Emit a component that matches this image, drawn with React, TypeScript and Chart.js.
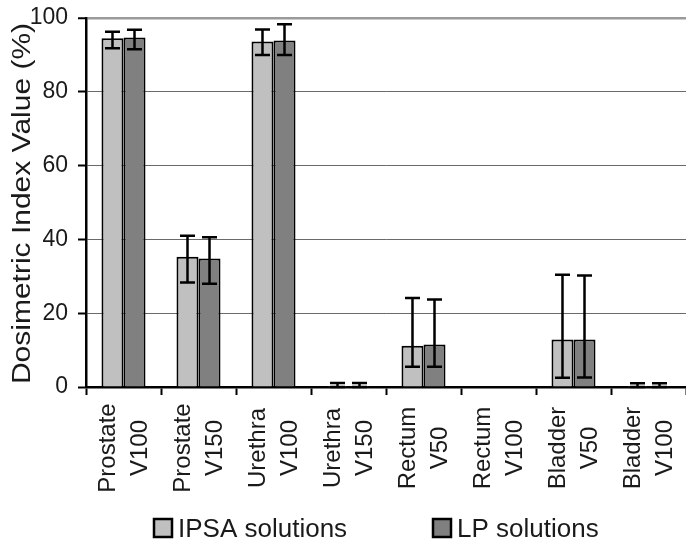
import { useEffect, useRef } from 'react';
import { Chart, registerables } from 'chart.js';

Chart.register(...registerables);

const categories: string[][] = [
  ['Prostate', 'V100'],
  ['Prostate', 'V150'],
  ['Urethra', 'V100'],
  ['Urethra', 'V150'],
  ['Rectum', 'V50'],
  ['Rectum', 'V100'],
  ['Bladder', 'V50'],
  ['Bladder', 'V100'],
];

const ipsaValues = [94.5, 35.3, 93.6, 0.3, 11.2, 0, 12.9, 0.3];
const ipsaLow = [91.8, 28.3, 90.0, 0, 5.5, 0, 2.5, 0];
const ipsaHigh = [96.3, 41.0, 96.9, 1.1, 24.1, 0, 30.4, 1.0];

const lpValues = [94.7, 34.8, 93.9, 0.3, 11.5, 0, 12.9, 0.3];
const lpLow = [91.5, 28.0, 90.0, 0, 5.5, 0, 2.6, 0];
const lpHigh = [96.8, 40.6, 98.3, 1.1, 23.7, 0, 30.2, 1.0];

const yTicks = [0, 20, 40, 60, 80, 100];

const seriesLabels = ['IPSA solutions', 'LP solutions'];
const seriesColors = ['#c0c0c0', '#808080'];
const yTitle = 'Dosimetric Index Value (%)';

const FONT = '"Liberation Sans", Arial, Helvetica, sans-serif';
const TEXT_COLOR = '#1a1a1a';

const overlayPlugin = {
  id: 'overlay',
  afterDatasetsDraw(chart: any) {
    const ctx = chart.ctx;
    const yScale = chart.scales.y;
    const ranges = [
      [ipsaLow, ipsaHigh],
      [lpLow, lpHigh],
    ];
    ctx.save();
    ctx.strokeStyle = '#000';
    ctx.lineWidth = 2.5;
    ranges.forEach(([lo, hi], di) => {
      const meta = chart.getDatasetMeta(di);
      meta.data.forEach((bar: any, i: number) => {
        if (hi[i] - lo[i] <= 0) return;
        const x = bar.x;
        const y1 = yScale.getPixelForValue(lo[i]);
        const y2 = yScale.getPixelForValue(hi[i]);
        const cap = 7.5;
        ctx.beginPath();
        ctx.moveTo(x, y1);
        ctx.lineTo(x, y2);
        ctx.moveTo(x - cap, y1);
        ctx.lineTo(x + cap, y1);
        ctx.moveTo(x - cap, y2);
        ctx.lineTo(x + cap, y2);
        ctx.stroke();
      });
    });
    ctx.restore();
  },
  afterDraw(chart: any) {
    const ctx = chart.ctx;
    const xScale = chart.scales.x;
    const area = chart.chartArea;

    // category labels (rotated, centred)
    ctx.save();
    ctx.fillStyle = TEXT_COLOR;
    ctx.font = `24px ${FONT}`;
    ctx.textAlign = 'center';
    ctx.textBaseline = 'alphabetic';
    categories.forEach((lines, i) => {
      const x = xScale.getPixelForValue(i);
      ctx.save();
      ctx.translate(x, area.bottom + 61);
      ctx.rotate(-Math.PI / 2);
      ctx.fillText(lines[0], 0, -8.5);
      ctx.fillText(lines[1], 0, 23);
      ctx.restore();
    });
    ctx.restore();

    // y-axis title
    ctx.save();
    ctx.fillStyle = TEXT_COLOR;
    ctx.font = `25px ${FONT}`;
    ctx.textAlign = 'center';
    ctx.textBaseline = 'alphabetic';
    ctx.translate(29.5, (area.top + area.bottom) / 2 + 1);
    ctx.rotate(-Math.PI / 2);
    ctx.scale(1.2, 1);
    ctx.fillText(yTitle, 0, 0);
    ctx.restore();

    // legend
    const legendX = [154, 433];
    const legendY = 519;
    ctx.save();
    ctx.font = `26px ${FONT}`;
    ctx.textAlign = 'left';
    ctx.textBaseline = 'alphabetic';
    seriesLabels.forEach((label, i) => {
      const lx = legendX[i];
      ctx.fillStyle = seriesColors[i];
      ctx.fillRect(lx, legendY, 18, 18);
      ctx.strokeStyle = '#000';
      ctx.lineWidth = 2.5;
      ctx.strokeRect(lx, legendY, 18, 18);
      ctx.fillStyle = TEXT_COLOR;
      ctx.fillText(label, lx + 24, legendY + 18);
    });
    ctx.restore();
  },
};

export default function App() {
  const canvasRef = useRef<HTMLCanvasElement | null>(null);

  useEffect(() => {
    document.body.style.margin = '0';
    const canvas = canvasRef.current;
    if (!canvas) return;
    const chart = new Chart(canvas, {
      type: 'bar',
      data: {
        labels: categories.map((c) => c.join(' ')),
        datasets: [
          {
            label: seriesLabels[0],
            data: ipsaValues,
            backgroundColor: seriesColors[0],
            borderColor: '#000',
            borderWidth: 2,
            categoryPercentage: 0.587,
            barPercentage: 1,
          },
          {
            label: seriesLabels[1],
            data: lpValues,
            backgroundColor: seriesColors[1],
            borderColor: '#000',
            borderWidth: 2,
            categoryPercentage: 0.587,
            barPercentage: 1,
          },
        ],
      },
      options: {
        responsive: false,
        animation: false,
        devicePixelRatio: 1,
        layout: { padding: { top: 18, right: 0, bottom: 0, left: 0 } },
        plugins: {
          legend: { display: false },
          tooltip: { enabled: false },
        },
        scales: {
          x: {
            ticks: { display: false },
            grid: {
              offset: true,
              drawOnChartArea: false,
              drawTicks: true,
              tickLength: 8,
              tickColor: '#000',
              tickWidth: 2,
            },
            border: { color: '#000', width: 2.5 },
            afterFit: (scale: any) => {
              scale.height = 154;
              scale.paddingLeft = 0;
              scale.paddingRight = 0;
            },
          },
          y: {
            min: 0,
            max: 100,
            afterBuildTicks: (scale: any) => {
              scale.ticks = yTicks.map((v) => ({ value: v }));
            },
            ticks: {
              color: TEXT_COLOR,
              font: { family: FONT, size: 23 },
              padding: 10,
            },
            grid: {
              color: (c: any) => (c.tick && c.tick.value === 100 ? '#9a9a9a' : '#6a6a6a'),
              lineWidth: (c: any) => (c.tick && c.tick.value === 100 ? 2.5 : 1),
              tickLength: 8,
              tickColor: '#000',
              tickWidth: 2,
            },
            border: { color: '#000', width: 2.5 },
            afterFit: (scale: any) => {
              scale.width = 86;
              scale.paddingTop = 0;
              scale.paddingBottom = 0;
            },
          },
        },
      },
      plugins: [overlayPlugin],
    });
    return () => chart.destroy();
  }, []);

  return (
    <canvas
      ref={canvasRef}
      width={686}
      height={541}
      style={{ display: 'block', width: 686, height: 541 }}
    />
  );
}
